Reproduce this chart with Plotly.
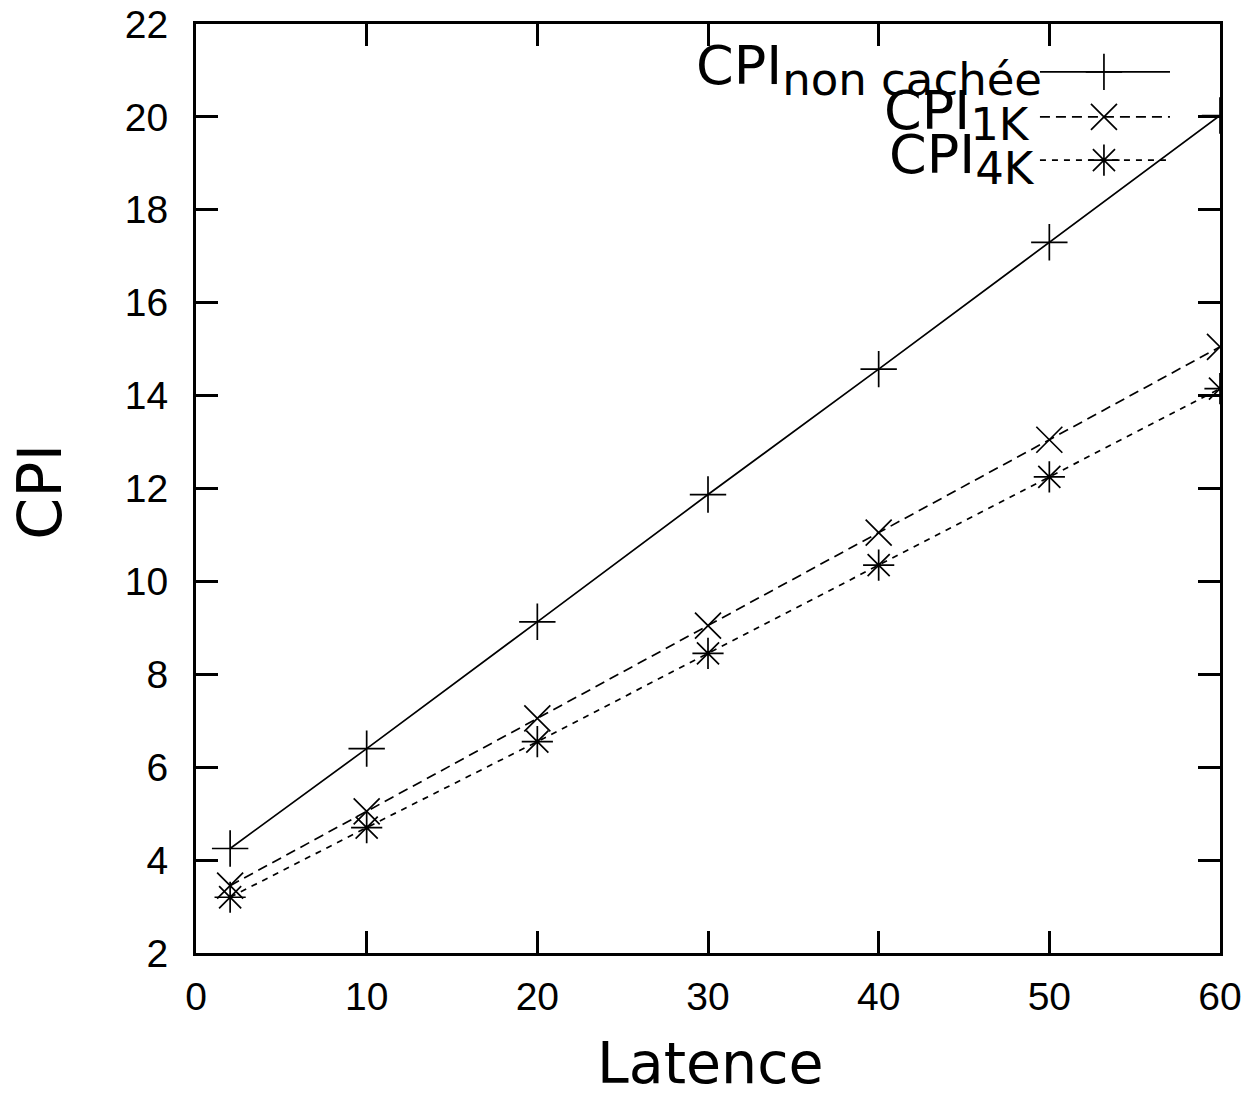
import plotly.graph_objects as go

# ---- data ----
latence = [2, 10, 20, 30, 40, 50, 60]
cpi_non_cachee = [4.25, 6.4, 9.13, 11.87, 14.57, 17.3, 20.03]
cpi_1k = [3.45, 5.05, 7.05, 9.05, 11.05, 13.05, 15.05]
cpi_4k = [3.2, 4.7, 6.55, 8.45, 10.35, 12.25, 14.15]

x_ticks = [0, 10, 20, 30, 40, 50, 60]
y_ticks = [2, 4, 6, 8, 10, 12, 14, 16, 18, 20, 22]

SUB = '<sub><span style="font-size:45px">{}</span></sub>'
series = [
    ("CPI" + SUB.format("non cachée"), cpi_non_cachee, "solid", "cross-thin-open"),
    ("CPI" + SUB.format("1K"), cpi_1k, "10px,6px", "x-thin-open"),
    ("CPI" + SUB.format("4K"), cpi_4k, "6px,6px", "asterisk-open"),
]

# legend layout (data coordinates of the key area)
key_x0, key_x1, key_xm = 49.45, 57.07, 53.2
key_y = [20.97, 20.0, 19.07]
key_text_x = [29.2, 40.2, 40.5]
key_text_y = [21.0, 20.05, 19.1]

fig = go.Figure()
for (name, vals, dash, sym) in series:
    fig.add_trace(go.Scatter(
        x=latence, y=vals, mode="lines+markers", name=name,
        line=dict(color="black", width=1.7, dash=dash),
        marker=dict(symbol=sym, size=26, color="black",
                    line=dict(color="black", width=1.7)),
        showlegend=False))

for i, (name, vals, dash, sym) in enumerate(series):
    fig.add_trace(go.Scatter(
        x=[key_x0, key_x1], y=[key_y[i], key_y[i]], mode="lines",
        line=dict(color="black", width=1.7, dash=dash),
        showlegend=False, hoverinfo="skip"))
    fig.add_trace(go.Scatter(
        x=[key_xm], y=[key_y[i]], mode="markers",
        marker=dict(symbol=sym, size=26, color="black",
                    line=dict(color="black", width=1.7)),
        showlegend=False, hoverinfo="skip"))
    fig.add_annotation(x=key_text_x[i], y=key_text_y[i], xref="x", yref="y",
                       text=name, showarrow=False, xanchor="left",
                       yanchor="middle",
                       font=dict(family="DejaVu Sans", size=54, color="black"))

axis_common = dict(
    showline=True, linecolor="black", linewidth=3, mirror="ticks",
    ticks="inside", ticklen=22, tickwidth=3, tickcolor="black",
    showgrid=False, zeroline=False, automargin=False,
    tickfont=dict(family="Liberation Sans", size=39, color="black"),
)

fig.update_layout(
    width=1257, height=1094,
    margin=dict(l=196, r=37, t=24, b=141),
    paper_bgcolor="white", plot_bgcolor="white",
    xaxis=dict(range=[0, 60], tickvals=x_ticks, ticklabelstandoff=7, **axis_common),
    yaxis=dict(range=[2, 22], tickvals=y_ticks, ticklabelstandoff=17, **axis_common),
    annotations=list(fig.layout.annotations) + [
        dict(text="Latence", xref="paper", yref="paper", x=0.502, y=-0.118,
             xanchor="center", yanchor="middle", showarrow=False,
             font=dict(family="DejaVu Sans", size=57, color="black")),
        dict(text="CPI", xref="paper", yref="paper", x=-0.152, y=0.497,
             xanchor="center", yanchor="middle", showarrow=False, textangle=-90,
             font=dict(family="DejaVu Sans", size=60, color="black")),
    ],
)

fig.write_html("out.html", config={"displayModeBar": False},
               post_script="document.body.style.margin='0';")
